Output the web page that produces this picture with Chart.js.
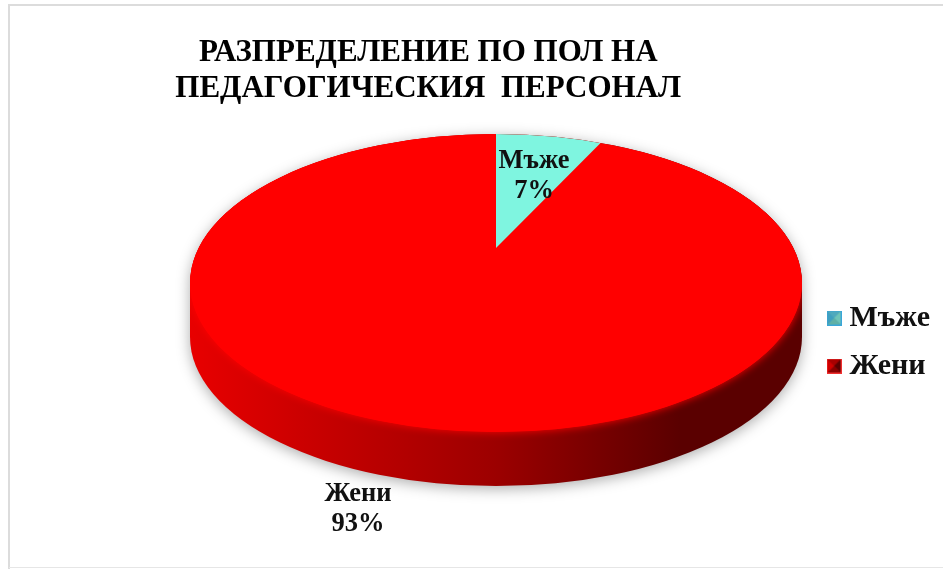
<!DOCTYPE html>
<html><head><meta charset="utf-8">
<script src="https://cdn.jsdelivr.net/npm/chart.js@4"></script>
<style>html,body{margin:0;background:#fff}canvas{display:block}</style>
</head><body><canvas id="c" width="943" height="569"></canvas>
<script>
const categories = ['Мъже', 'Жени'];
const values = [7, 93];
const colors = ['#7ff5e0', '#ff0000'];
const titleLines = ['РАЗПРЕДЕЛЕНИЕ ПО ПОЛ НА', 'ПЕДАГОГИЧЕСКИЯ  ПЕРСОНАЛ'];

const SERIF = '"Liberation Serif","Times New Roman",serif';
const VIEW = {cx:496, cy:283, rx:306, ry:149, depth:54, apexY:248, wedgeRx:252, wedgeRy:119};
const LABELS = [{x:534, y:161}, {x:358, y:494}];

function marker(a, b, c, d, edge){
  const s=15, k=document.createElement('canvas'); k.width=k.height=s;
  const g=k.getContext('2d');
  g.fillStyle=a;g.fillRect(0,0,s,s);
  const tri=(col,p)=>{g.fillStyle=col;g.beginPath();g.moveTo(s/2,s/2);g.lineTo(p[0],p[1]);g.lineTo(p[2],p[3]);g.closePath();g.fill();};
  tri(a,[0,0,s,0]);tri(b,[s,0,s,s]);tri(c,[s,s,0,s]);tri(d,[0,s,0,0]);
  g.strokeStyle=edge;g.lineWidth=1;g.strokeRect(.5,.5,s-1,s-1);
  return k;
}
const markers=[marker('#4fa9bd','#6fc4b8','#5fb0a6','#3f9fc0','#3aa6d8'),
               marker('#a80000','#5a0000','#8a0000','#d00000','#f03030')];

const pie3d = {
  id:'pie3d',
  beforeDatasetsDraw(chart){
    const ctx=chart.ctx, V=VIEW, arcs=chart.getDatasetMeta(0).data;
    const extruded=()=>{
      ctx.beginPath();
      ctx.ellipse(V.cx,V.cy,V.rx,V.ry,0,Math.PI,2*Math.PI);
      ctx.lineTo(V.cx+V.rx,V.cy+V.depth);
      ctx.ellipse(V.cx,V.cy+V.depth,V.rx,V.ry,0,0,Math.PI);
      ctx.closePath();
    };
    const grad=ctx.createLinearGradient(V.cx-V.rx,0,V.cx+V.rx,0);
    grad.addColorStop(0,'#e80000');
    grad.addColorStop(.18,'#cc0000');
    grad.addColorStop(.5,'#9c0000');
    grad.addColorStop(.8,'#5a0000');
    grad.addColorStop(1,'#5a0000');
    ctx.save();
    ctx.shadowColor='rgba(0,0,0,.32)';ctx.shadowBlur=14;ctx.shadowOffsetY=3;
    extruded();ctx.fillStyle=grad;ctx.fill();
    ctx.restore();

    ctx.save();
    extruded();ctx.clip();
    ctx.shadowColor='#ff0000';ctx.shadowBlur=9;
    ctx.fillStyle=colors[1];
    ctx.beginPath();ctx.ellipse(V.cx,V.cy,V.rx,V.ry,0,0,2*Math.PI);ctx.fill();
    ctx.restore();

    ctx.save();
    ctx.beginPath();ctx.ellipse(V.cx,V.cy,V.rx,V.ry,0,0,2*Math.PI);ctx.clip();
    [[1,V.cx,V.cy,V.rx,V.ry],[0,V.cx,V.apexY,V.wedgeRx,V.wedgeRy]].forEach(([i,x,y,rx,ry])=>{
      const a=arcs[i], R=a.outerRadius;
      ctx.save();
      ctx.translate(x,y);ctx.scale(rx/R,ry/R);ctx.translate(-a.x,-a.y);
      a.draw(ctx,chart.chartArea);
      ctx.restore();
    });
    ctx.restore();
    return false;
  },
  afterDraw(chart){
    const ctx=chart.ctx, total=values.reduce((p,q)=>p+q,0);
    ctx.save();
    ctx.fillStyle='#111';ctx.textAlign='center';ctx.textBaseline='middle';
    ctx.font='bold 26.5px '+SERIF;
    categories.forEach((c,i)=>{
      ctx.fillText(c,LABELS[i].x,LABELS[i].y);
      ctx.fillText(Math.round(values[i]/total*100)+'%',LABELS[i].x,LABELS[i].y+30);
    });
    ctx.restore();
  },
  beforeDraw(chart){
    const ctx=chart.ctx;
    ctx.save();ctx.fillStyle='#fff';ctx.fillRect(0,0,943,569);
    ctx.strokeStyle='#dcdcdc';ctx.lineWidth=2;
    ctx.beginPath();ctx.moveTo(9,569);ctx.lineTo(9,5);ctx.lineTo(943,5);ctx.stroke();
    ctx.lineWidth=1;ctx.strokeStyle='#e6e6e6';
    ctx.beginPath();ctx.moveTo(9,567.5);ctx.lineTo(943,567.5);ctx.stroke();
    ctx.restore();
  }
};

new Chart(document.getElementById('c'),{
  type:'pie',
  data:{labels:categories,datasets:[{data:values,backgroundColor:colors,borderWidth:0}]},
  plugins:[pie3d],
  options:{
    responsive:false,animation:false,
    layout:{padding:{left:41,right:3,bottom:170}},
    plugins:{
      title:{display:true,text:titleLines,fullSize:false,color:'#000',
        font:{family:SERIF,size:31,weight:'bold',lineHeight:1.17},padding:{top:35,bottom:10}},
      legend:{position:'right',align:'end',labels:{
        color:'#111',font:{family:SERIF,size:30,weight:'bold'},padding:18,usePointStyle:true,pointStyleWidth:1,
        generateLabels(chart){return categories.map((c,i)=>({text:c,pointStyle:markers[i],fontColor:'#111',index:i,hidden:false,lineWidth:0,strokeStyle:'transparent',fillStyle:colors[i]}));}
      }},
      tooltip:{enabled:false}
    }
  }
});
</script></body></html>
